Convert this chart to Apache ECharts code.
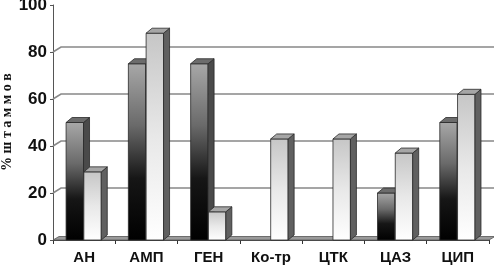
<!DOCTYPE html>
<html><head><meta charset="utf-8">
<script src="https://cdn.jsdelivr.net/npm/echarts@6/dist/echarts.min.js"></script>
<style>html,body{margin:0;padding:0;background:#fff}#c{width:494px;height:265px}</style>
</head><body><div id="c"></div>
<script>
const categories = ['АН','АМП','ГЕН','Ко-тр','ЦТК','ЦАЗ','ЦИП'];
const darkValues = [50, 75, 75, 0, 0, 20, 50];
const lightValues = [29, 88, 12, 43, 43, 37, 62];
const gridValues = [20, 40, 60, 80];
const yAxisName = '% ш т а м м о в';

const DX = 6, DY = -5;
const chart = echarts.init(document.getElementById('c'), null, {renderer: 'canvas'});

function barRenderer(kind) {
  return function (params, api) {
    const ci = api.value(0), v = api.value(1);
    if (!v) return null;
    const base = api.coord([ci, 0]);
    const top = api.coord([ci, v]);
    const band = api.size([1, 0])[0];
    const bw = band * 0.28;
    const x0 = base[0] + (kind === 'dark' ? -0.29 * band : -0.005 * band);
    const x1 = x0 + bw;
    const yT = top[1], yB = base[1];
    const front = kind === 'dark'
      ? new echarts.graphic.LinearGradient(0, 0, 0, 1, [
          {offset: 0, color: '#a8a8a8'}, {offset: 0.35, color: '#6a6a6a'},
          {offset: 0.65, color: '#161616'}, {offset: 1, color: '#000'}])
      : new echarts.graphic.LinearGradient(0, 0, 0, 1, [
          {offset: 0, color: '#c6c6c6'}, {offset: 0.5, color: '#e8e8e8'},
          {offset: 1, color: '#ffffff'}]);
    const sideCol = kind === 'dark' ? '#4a4a4a' : '#606060';
    const topCol = kind === 'dark' ? '#6c6c6c' : '#a6a6a6';
    const stroke = {stroke: '#2a2a2a', lineWidth: 0.8};
    return {
      type: 'group',
      children: [
        {type: 'rect', shape: {x: x0, y: yT, width: bw, height: yB - yT},
         style: Object.assign({fill: front}, stroke)},
        {type: 'polygon', shape: {points: [[x1, yT], [x1 + DX, yT + DY], [x1 + DX, yB + DY], [x1, yB]]},
         style: Object.assign({fill: sideCol}, stroke)},
        {type: 'polygon', shape: {points: [[x0, yT], [x0 + DX, yT + DY], [x1 + DX, yT + DY], [x1, yT]]},
         style: Object.assign({fill: topCol}, stroke)}
      ]
    };
  };
}

function gridRenderer(params, api) {
  const v = api.value(1);
  const band = api.size([1, 0])[0];
  const left = api.coord([0, v])[0] - band / 2;
  const right = api.coord([categories.length - 1, v])[0] + band / 2;
  const y = api.coord([0, v])[1];
  return {
    type: 'polyline',
    shape: {points: [[left, y], [left + 8, y + DY], [right + DX, y + DY]]},
    style: {stroke: '#888', lineWidth: 1.6, fill: null}
  };
}

function floorRenderer(params, api) {
  const band = api.size([1, 0])[0];
  const left = api.coord([0, 0])[0] - band / 2;
  const right = api.coord([categories.length - 1, 0])[0] + band / 2;
  const y = api.coord([0, 0])[1];
  return {
    type: 'polygon',
    shape: {points: [[left, y], [left + 6, y - 3.5], [right + DX, y - 3.5], [right, y]]},
    style: {fill: '#9a9a9a', stroke: '#555', lineWidth: 0.8}
  };
}

chart.setOption({
  animation: false,
  grid: {left: 53, right: 5, top: 5, bottom: 25, containLabel: false, outerBoundsMode: 'none'},
  graphic: [{
    type: 'text', x: 7, y: 122, rotation: Math.PI / 2,
    style: {text: yAxisName, align: 'center', verticalAlign: 'middle',
            font: 'bold 14px "Liberation Serif", "Times New Roman", serif', fill: '#111'}
  }],
  xAxis: {
    type: 'category',
    data: categories,
    axisLine: {show: true, lineStyle: {color: '#444', width: 1}},
    axisTick: {show: true, length: 4, lineStyle: {color: '#333'}},
    axisLabel: {margin: 10, color: '#111', fontFamily: 'Liberation Sans, Arial', fontWeight: 'bold', fontSize: 15},
    splitLine: {show: false}
  },
  yAxis: {
    type: 'value', min: 0, max: 100, interval: 20,
    axisLine: {show: true, lineStyle: {color: '#555', width: 1}},
    axisTick: {show: true, length: 3, lineStyle: {color: '#555'}},
    axisLabel: {margin: 6, color: '#111', fontFamily: 'Liberation Sans, Arial', fontWeight: 'bold', fontSize: 17},
    splitLine: {show: false}
  },
  series: [
    {type: 'custom', renderItem: gridRenderer, data: gridValues.map(v => [0, v]), silent: true, z: 1},
    {type: 'custom', renderItem: floorRenderer, data: [[0, 0]], silent: true, z: 2},
    {type: 'custom', renderItem: barRenderer('dark'), data: darkValues.map((v, i) => [i, v]), z: 3},
    {type: 'custom', renderItem: barRenderer('light'), data: lightValues.map((v, i) => [i, v]), z: 4}
  ]
});
</script></body></html>
